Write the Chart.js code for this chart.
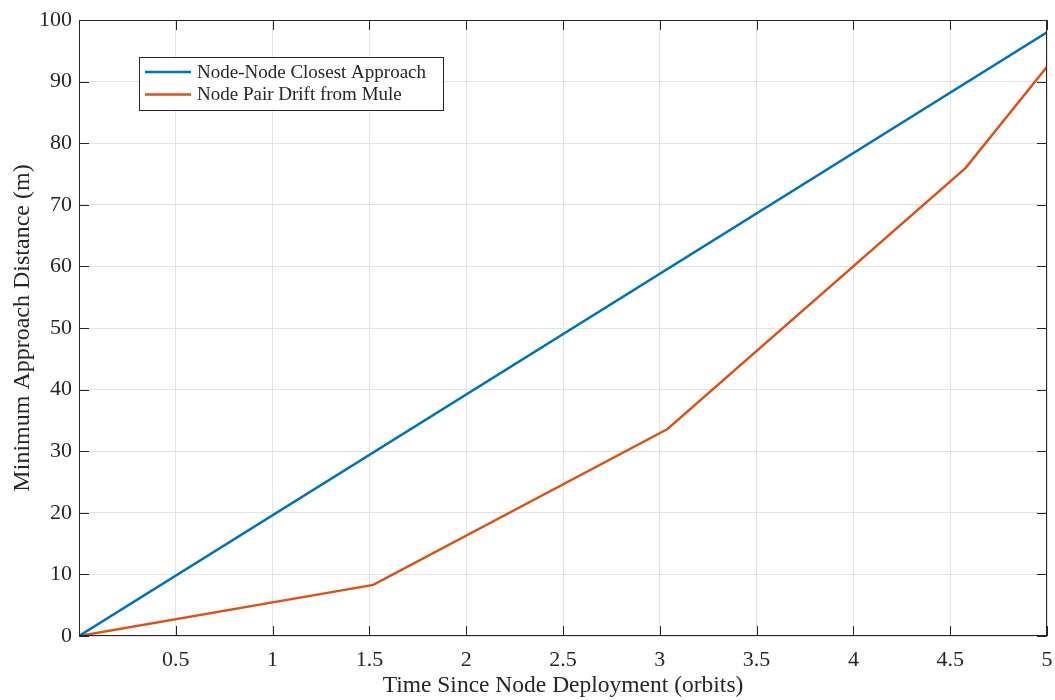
<!DOCTYPE html>
<html>
<head>
<meta charset="utf-8">
<script src="https://cdn.jsdelivr.net/npm/chart.js@4"></script>
<style>
  html, body { margin: 0; padding: 0; background: #fff; }
  #wrap { width: 1055px; height: 700px; }
</style>
</head>
<body>
<div id="wrap"><canvas id="myChart" width="1055" height="700"></canvas></div>
<script>
// data
var closestX = [0, 5];
var closestY = [0, 98];
var driftX = [0, 1.52, 3.04, 4.58, 5];
var driftY = [0, 8.3, 33.6, 76.0, 92.4];
var seriesNames = ['Node-Node Closest Approach', 'Node Pair Drift from Mule'];
var xTicks = [0, 0.5, 1, 1.5, 2, 2.5, 3, 3.5, 4, 4.5, 5];
var yTicks = [0, 10, 20, 30, 40, 50, 60, 70, 80, 90, 100];

var FONT = '"Liberation Serif", "Times New Roman", serif';
var INK = '#262626';

function toPoints(xs, ys) {
    return xs.map(function (x, i) { return { x: x, y: ys[i] }; });
}

// box round the axes + inward tick marks, like matlab
var boxPlugin = {
    id: 'box',
    afterDatasetsDraw: function (chart) {
        var ctx = chart.ctx, a = chart.chartArea;
        var xs = chart.scales.x, ys = chart.scales.y;
        ctx.save();
        ctx.strokeStyle = INK;
        ctx.lineWidth = 1;
        ctx.strokeRect(a.left + 0.5, a.top + 0.5, a.right - a.left - 1, a.bottom - a.top - 1);
        ctx.beginPath();
        xTicks.forEach(function (v) {
            var px = Math.round(xs.getPixelForValue(v)) + 0.5;
            ctx.moveTo(px, a.bottom); ctx.lineTo(px, a.bottom - 10);
            ctx.moveTo(px, a.top); ctx.lineTo(px, a.top + 10);
        });
        yTicks.forEach(function (v) {
            var py = Math.round(ys.getPixelForValue(v)) + 0.5;
            ctx.moveTo(a.left, py); ctx.lineTo(a.left + 10, py);
            ctx.moveTo(a.right, py); ctx.lineTo(a.right - 10, py);
        });
        ctx.stroke();
        ctx.restore();
    },
    afterDraw: function (chart) {
        // legend box
        var ctx = chart.ctx;
        var bx = 139, by = 57, bw = 304, bh = 53;
        ctx.save();
        ctx.fillStyle = '#fff';
        ctx.fillRect(bx, by, bw, bh);
        ctx.strokeStyle = INK;
        ctx.lineWidth = 1;
        ctx.strokeRect(bx + 0.5, by + 0.5, bw, bh);
        ctx.font = '19px ' + FONT;
        ctx.textBaseline = 'middle';
        chart.data.datasets.forEach(function (ds, i) {
            var ly = by + 15 + i * 22.5;
            ctx.strokeStyle = ds.borderColor;
            ctx.lineWidth = 2.5;
            ctx.beginPath();
            ctx.moveTo(bx + 6, ly); ctx.lineTo(bx + 52, ly);
            ctx.stroke();
            ctx.fillStyle = INK;
            ctx.fillText(ds.label, bx + 58, ly + 1);
        });
        ctx.restore();
    }
};

var ctx = document.getElementById('myChart').getContext('2d');
var chart = new Chart(ctx, {
    type: 'line',
    data: {
        datasets: [{
            label: seriesNames[0],
            data: toPoints(closestX, closestY),
            borderColor: '#0072BD',
            borderWidth: 2.5,
            pointRadius: 0,
            fill: false,
            tension: 0
        }, {
            label: seriesNames[1],
            data: toPoints(driftX, driftY),
            borderColor: '#D95319',
            borderWidth: 2.5,
            pointRadius: 0,
            fill: false,
            tension: 0
        }]
    },
    options: {
        responsive: false,
        animation: false,
        layout: { padding: { top: 20, right: 8, left: 0, bottom: 0 } },
        plugins: {
            legend: { display: false },
            tooltip: { enabled: false }
        },
        scales: {
            x: {
                type: 'linear',
                min: 0,
                max: 5,
                afterBuildTicks: function (s) { s.ticks = xTicks.map(function (v) { return { value: v }; }); },
                afterFit: function (s) { s.height = 64; s.paddingLeft = 0; s.paddingRight = 0; },
                grid: { color: '#e3e3e3', drawTicks: false },
                border: { display: false },
                ticks: {
                    padding: 11,
                    maxRotation: 0,
                    autoSkip: false,
                    color: INK,
                    font: { family: FONT, size: 22 },
                    callback: function (v) { return v === 0 ? '' : v; }
                },
                title: {
                    display: true,
                    text: 'Time Since Node Deployment (orbits)',
                    color: INK,
                    font: { family: FONT, size: 23.5 },
                    padding: { top: 0, bottom: 0 }
                }
            },
            y: {
                min: 0,
                max: 100,
                afterBuildTicks: function (s) { s.ticks = yTicks.map(function (v) { return { value: v }; }); },
                afterFit: function (s) { s.width = 79; s.paddingTop = 0; s.paddingBottom = 0; },
                grid: { color: '#e3e3e3', drawTicks: false },
                border: { display: false },
                ticks: {
                    padding: 7,
                    autoSkip: false,
                    color: INK,
                    font: { family: FONT, size: 22 }
                },
                title: {
                    display: true,
                    text: 'Minimum Approach Distance (m)',
                    color: INK,
                    font: { family: FONT, size: 24 },
                    padding: { top: 8, bottom: 0 }
                }
            }
        }
    },
    plugins: [boxPlugin]
});
</script>
</body>
</html>
